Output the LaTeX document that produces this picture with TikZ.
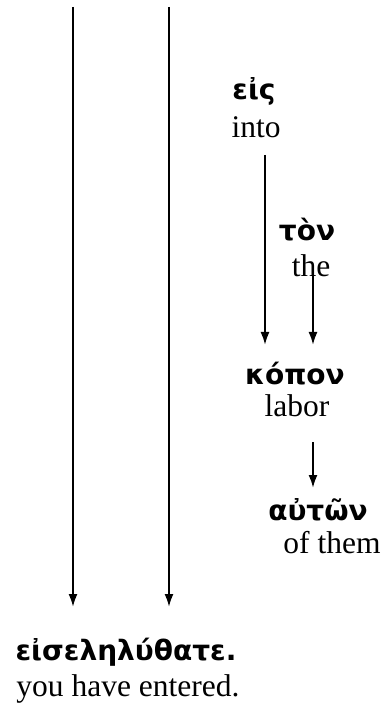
\documentclass[tikz,border=0pt]{standalone}
\usepackage{fontspec}
\setmainfont{Liberation Serif}
\newfontfamily\grk{DejaVu Sans}
\usetikzlibrary{arrows.meta}

\begin{document}
\begin{tikzpicture}[x=0.5pt,y=-0.5pt,
  greek/.style={inner sep=0,font=\grk\bfseries\fontsize{14}{16}\selectfont},
  gloss/.style={inner sep=0,font=\fontsize{15.75}{18}\selectfont},
  arr/.style={-{Latex[length=6.5pt,width=4.5pt]},line width=1pt}]
  \useasboundingbox (0,0) rectangle (386,710);
  % words with their glosses
  \node[greek] (eis)    at (254,91)  {εἰς};
  \node[gloss] (into)   at (256,127) {into};
  \node[greek] (ton)    at (307,230) {τὸν};
  \node[gloss] (the)    at (311,266) {the};
  \node[greek] (kopon)  at (295,374) {κόπον};
  \node[gloss] (labor)  at (297,406) {labor};
  \node[greek] (auton)  at (318,510) {αὐτῶν};
  \node[gloss] (ofthem) at (332,543) {of them};
  \node[greek] (verb)   at (126,652) {εἰσεληλύθατε.};
  \node[gloss] (entered) at (128,689) {you have entered.};
  % long arrows down to the verb
  \foreach \x/\n in {73/a,169/b} {
    \coordinate (top\n) at (\x,7);
    \coordinate (end\n) at (\x,607);
    \draw[arr] (top\n) -- (end\n);}
  % short arrows
  \coordinate (s1) at (265,155);
  \coordinate (e1) at (265,345);
  \coordinate (s2) at (313,275);
  \coordinate (e2) at (313,345);
  \coordinate (s3) at (313,442);
  \coordinate (e3) at (313,488);
  \foreach \k in {1,2,3} {\draw[arr] (s\k) -- (e\k);}
\end{tikzpicture}
\end{document}
